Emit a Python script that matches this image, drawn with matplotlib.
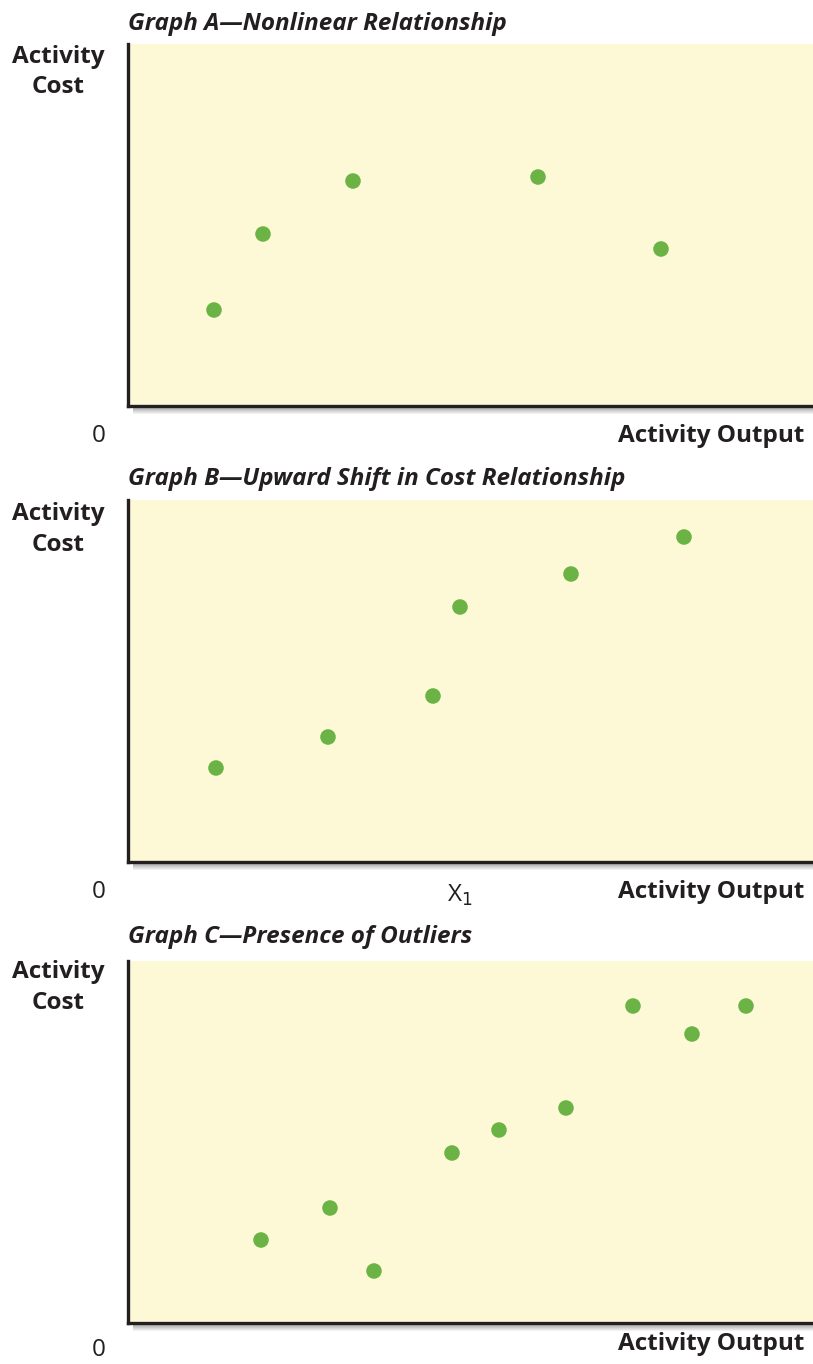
import matplotlib
matplotlib.use("Agg")
import matplotlib.pyplot as plt
from matplotlib.patches import Rectangle

plt.rcParams['font.family'] = ['Open Sans', 'DejaVu Sans']

# scatter data for the three panels (output, cost)
titles = ["Graph A\u2014Nonlinear Relationship",
          "Graph B\u2014Upward Shift in Cost Relationship",
          "Graph C\u2014Presence of Outliers"]

a_output = [86, 135, 225, 410, 533]
a_cost = [96, 172, 225, 229, 157]

b_output = [88, 200, 305, 332, 443, 556]
b_cost = [94, 125, 166, 255, 288, 325]

c_output = [133, 202, 246, 324, 371, 438, 505, 564, 618]
c_cost = [83, 115, 52, 170, 193, 215, 317, 289, 317]

x1_pos = 332
x1_label = "X$_1$"

panels = [(a_output, a_cost), (b_output, b_cost), (c_output, c_cost)]

W, H = 813, 1364
fig = plt.figure(figsize=(W / 100, H / 100), dpi=100)

left, right = 128, 813
bottoms = [406, 862, 1323]
ph = 362
# text baselines (pixels from top) per panel
title_y = [30, 485, 943]
ylab_y = [(63, 93), (520, 551), (978, 1009)]
zero_y = [442, 898, 1356]
xlab_y = [442, 898, 1350]

fill = "#fdf8d6"
dark = "#231f20"
green = "#6ab344"
fs = 17.5


def fy(py):
    return 1 - py / H


for i, ((xs, ys), bot) in enumerate(zip(panels, bottoms)):
    ax = fig.add_axes([left / W, fy(bot), (right - left) / W, ph / H])
    ax.set_facecolor(fill)
    ax.set_xlim(0, right - left)
    ax.set_ylim(0, ph)
    for s in ("top", "right"):
        ax.spines[s].set_visible(False)
    for s in ("left", "bottom"):
        ax.spines[s].set_linewidth(2.4)
        ax.spines[s].set_color(dark)
    ax.set_xticks([])
    ax.set_yticks([])
    ax.scatter(xs, ys, s=125, color=green, edgecolors="none", zorder=3)

    # soft grey shadow under the baseline
    for k in range(6):
        a = 0.45 * (1 - k / 6)
        fig.patches.append(Rectangle(((left + 5) / W, fy(bot + 2 + k + 1)),
                                     (right - left) / W, 1 / H,
                                     transform=fig.transFigure, color="#555555",
                                     alpha=a, lw=0, zorder=0))

    fig.text(128 / W, fy(title_y[i]), titles[i], fontsize=fs,
             fontweight="bold", fontstyle="italic", color=dark,
             ha="left", va="baseline")
    fig.text(58 / W, fy(ylab_y[i][0]), "Activity", fontsize=fs,
             fontweight="bold", color=dark, ha="center", va="baseline")
    fig.text(58 / W, fy(ylab_y[i][1]), "Cost", fontsize=fs,
             fontweight="bold", color=dark, ha="center", va="baseline")
    fig.text(99 / W, fy(zero_y[i]), "0", fontsize=fs, color=dark,
             ha="center", va="baseline")
    fig.text(804 / W, fy(xlab_y[i]), "Activity Output", fontsize=fs,
             fontweight="bold", color=dark, ha="right", va="baseline")
    if i == 1:
        fig.text((left + x1_pos) / W, fy(xlab_y[i] + 4), x1_label,
                 fontsize=fs, color=dark, ha="center", va="baseline")

fig.savefig("out.png", dpi=100)
